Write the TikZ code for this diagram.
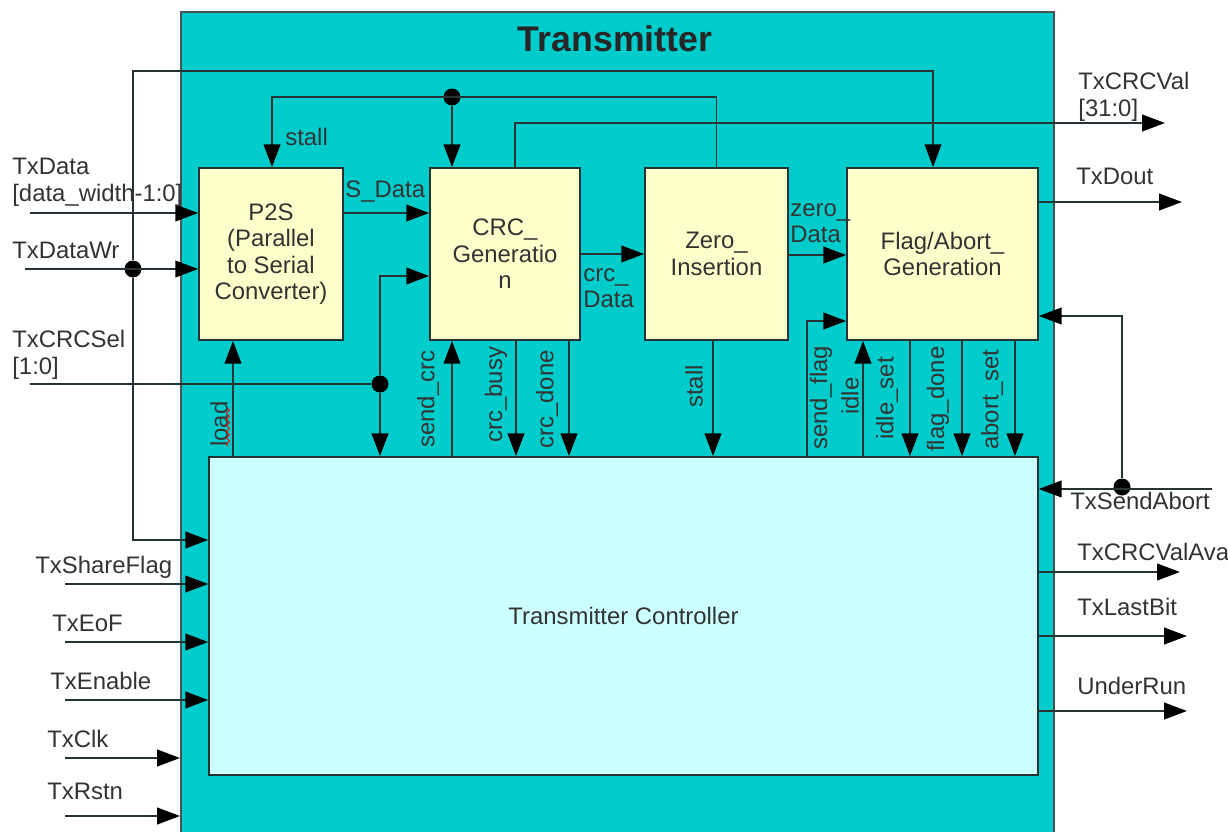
\documentclass[tikz,border=0pt]{standalone}
\usepackage{fontspec}
\setmainfont{Liberation Sans}
\usepackage{xcolor}
\usetikzlibrary{arrows.meta, positioning, decorations.pathmorphing}

\definecolor{txcyan}{HTML}{00CCCC}
\definecolor{ctlcyan}{HTML}{CCFFFF}
\definecolor{blkyellow}{HTML}{FFFFCC}
\definecolor{linegray}{HTML}{263333}
\definecolor{txtgray}{HTML}{333333}

\begin{document}
\begin{tikzpicture}[
    x=0.02cm, y=-0.02cm,
    font=\fontsize{13.6}{15}\selectfont,
    text=txtgray,
    outer/.style={rectangle, draw=linegray!85, line width=1.2pt, fill=txcyan, minimum width=17.46cm, minimum height=16.56cm},
    block/.style={rectangle, draw=linegray, line width=1pt, fill=blkyellow, minimum height=3.44cm, align=center, inner sep=0pt},
    control/.style={rectangle, draw=linegray, line width=1pt, fill=ctlcyan, minimum width=16.58cm, minimum height=6.36cm},
    sig/.style={inner sep=0pt, anchor=north west, align=left},
    vsig/.style={inner sep=0pt, rotate=90, anchor=west},
    line/.style={line width=1pt, draw=linegray},
    arrow/.style={line width=1pt, draw=linegray, -{Triangle[length=13pt,width=9.5pt,color=black]}},
    dot/.style={circle, fill=black, inner sep=0pt, minimum size=0.34cm}
]
\useasboundingbox (0,0) rectangle (1228,832);

% Transmitter
\node[outer] (tx) at (617.5,426) {};
\node[font=\bfseries\fontsize{20.3}{24}\selectfont, text=black!85] (title) at (615,39) {Transmitter};

% Main components
\node[block, minimum width=2.88cm] (p2s) at (271,254) {P2S\\(Parallel\\to Serial\\Converter)};
\node[block, minimum width=3.0cm] (crc) at (505,254) {CRC\_\\Generatio\\n};
\node[block, minimum width=2.86cm] (zero) at (716.5,254) {Zero\_\\Insertion};
\node[block, minimum width=3.82cm] (flag) at (942.5,254) {Flag/Abort\_\\Generation};
\node[control] (ctrl) at (623.5,616) {Transmitter Controller};

% Ports
\coordinate (iData) at (30,213);
\coordinate (iWr) at (25,269);
\coordinate (iSel) at (30,384);
\coordinate (iShare) at (65,584);
\coordinate (iEoF) at (65,642);
\coordinate (iEn) at (65,700);
\coordinate (iClk) at (65,758);
\coordinate (iRst) at (65,816);
\coordinate (iAbort) at (1212,489);
\coordinate (oCRCVal) at (1165,123);
\coordinate (oDout) at (1182,202);
\coordinate (oAva) at (1180,572);
\coordinate (oLast) at (1187,636);
\coordinate (oUnder) at (1187,711);
\coordinate (topL) at (133,71);
\coordinate (topR) at (933,71);
\coordinate (stL) at (272,97);

% Junctions
\node[dot] (dWr) at (133,269) {};
\node[dot] (dSel) at (380,384) {};
\node[dot] (dStall) at (452,97) {};
\node[dot] (dAbort) at (1122,487) {};

% Arrows
\draw[arrow] (iData) -- (p2s.west |- iData);
\draw[arrow] (iWr) -- (p2s.west |- iWr);
\draw[arrow] (dWr) -- (topL) -- (topR) -- (flag.north -| topR);
\draw[arrow] (dWr) |- (ctrl.west |- 0,540);
\draw[line] (iSel) -- (dSel);
\draw[arrow] (dSel) |- (crc.west |- 0,276);
\draw[arrow] (dSel) -- (ctrl.north -| dSel);
\draw[arrow] (zero.north) |- (stL) -- (stL |- p2s.north);
\draw[arrow] (dStall) -- (crc.north -| dStall);
\draw[arrow] (crc.north -| 515,0) |- (oCRCVal);
\draw[arrow] (p2s.east |- 0,213) -- (crc.west |- 0,213);
\draw[arrow] (crc.east |- 0,254) -- (zero.west |- 0,254);
\draw[arrow] (zero.east |- 0,255) -- (flag.west |- 0,255);
\draw[arrow] (flag.east |- 0,202) -- (oDout);
\draw[arrow] (iAbort) -- (ctrl.east |- iAbort);
\draw[arrow] (dAbort) |- (flag.east |- 0,316);
\draw[arrow] (ctrl.east |- oAva) -- (oAva);
\draw[arrow] (ctrl.east |- oLast) -- (oLast);
\draw[arrow] (ctrl.east |- oUnder) -- (oUnder);
\draw[arrow] (iShare) -- (ctrl.west |- iShare);
\draw[arrow] (iEoF) -- (ctrl.west |- iEoF);
\draw[arrow] (iEn) -- (ctrl.west |- iEn);
\draw[arrow] (iClk) -- (tx.west |- iClk);
\draw[arrow] (iRst) -- (tx.west |- iRst);

% Controller <-> blocks
\draw[arrow] (ctrl.north -| 233,0) -- (p2s.south -| 233,0);
\draw[arrow] (ctrl.north -| 452,0) -- (crc.south -| 452,0);
\draw[arrow] (crc.south -| 516,0) -- (ctrl.north -| 516,0);
\draw[arrow] (crc.south -| 569,0) -- (ctrl.north -| 569,0);
\draw[arrow] (zero.south -| 713,0) -- (ctrl.north -| 713,0);
\draw[arrow] (ctrl.north -| 807,0) |- (flag.west |- 0,321);
\draw[arrow] (ctrl.north -| 863,0) -- (flag.south -| 863,0);
\draw[arrow] (flag.south -| 910,0) -- (ctrl.north -| 910,0);
\draw[arrow] (flag.south -| 962,0) -- (ctrl.north -| 962,0);
\draw[arrow] (flag.south -| 1015,0) -- (ctrl.north -| 1015,0);

% Signal labels
\node[sig] (lData) at (12,158) {TxData\\{}[data\_width-1:0]};
\node[sig] (lWr) at (12,242) {TxDataWr};
\node[sig] (lSel) at (12,330) {TxCRCSel\\{}[1:0]};
\node[sig] (lShare) at (35,556) {TxShareFlag};
\node[sig] (lEoF) at (52,615) {TxEoF};
\node[sig] (lEn) at (50,672) {TxEnable};
\node[sig] (lClk) at (47,730) {TxClk};
\node[sig] (lRst) at (47,783) {TxRstn};
\node[sig] (lCRCVal) at (1078,72) {TxCRCVal\\{}[31:0]};
\node[sig] (lDout) at (1076,168) {TxDout};
\node[sig] (lAbort) at (1070,492) {TxSendAbort};
\node[sig] (lAva) at (1077,543) {TxCRCValAva};
\node[sig] (lLast) at (1077,598) {TxLastBit};
\node[sig] (lUnder) at (1077,677) {UnderRun};
\node[sig] (lSData) at (345,180) {S\_Data};
\node[sig] (lStall) at (285,128) {stall};
\node[sig] (lCrcData) at (583,268) {crc\_\\Data};
\node[sig] (lZeroData) at (790,203) {zero\_\\Data};

\node[vsig] (lLoad) at (219,447) {load};
\draw[red, line width=0.5pt, decorate, decoration={snake, amplitude=0.8pt, segment length=3.5pt}] (228,446) -- (228,408);
\node[vsig] (lSendCrc) at (428,448) {send\_crc};
\node[vsig] (lBusy) at (496,443) {crc\_busy};
\node[vsig] (lDone) at (547,449) {crc\_done};
\node[vsig] (lStall2) at (694,408) {stall};
\node[vsig] (lSendFlag) at (821,450) {send\_flag};
\node[vsig] (lIdle) at (850,415) {idle};
\node[vsig] (lIdleSet) at (887,440) {idle\_set};
\node[vsig] (lFlagDone) at (938,452) {flag\_done};
\node[vsig] (lAbortSet) at (992,450) {abort\_set};

\end{tikzpicture}
\end{document}
